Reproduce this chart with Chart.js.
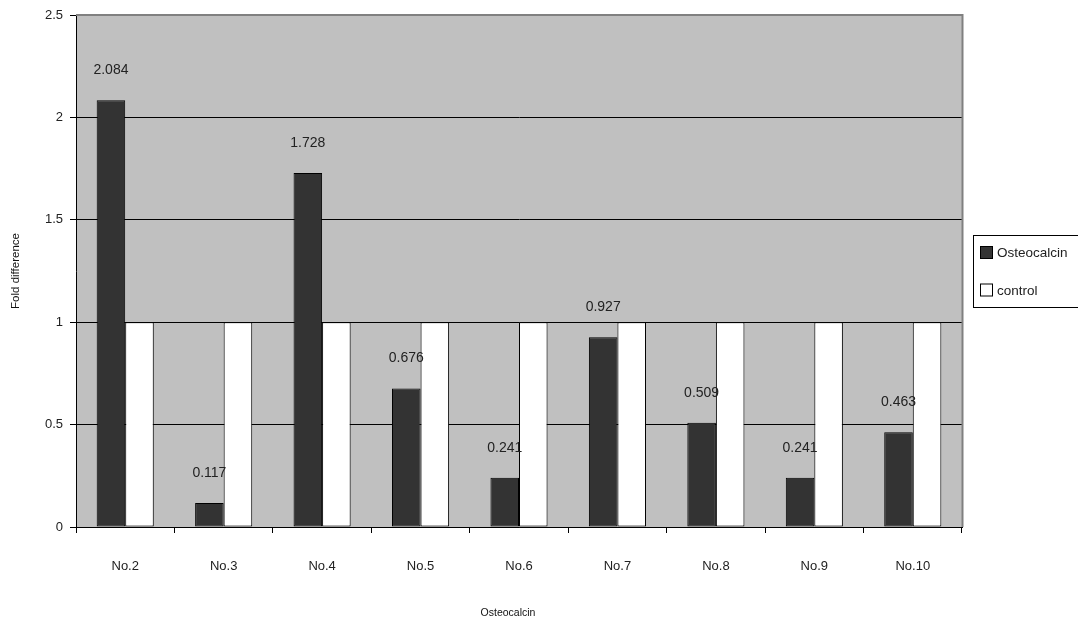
<!DOCTYPE html>
<html>
<head>
<meta charset="utf-8">
<script src="https://cdn.jsdelivr.net/npm/chart.js@4/dist/chart.umd.min.js"></script>
<style>
  html, body { margin: 0; padding: 0; background: #fff; }
  #wrap { width: 1078px; height: 625px; position: relative; }
</style>
</head>
<body>
<div id="wrap"><canvas id="c" width="1078" height="625"></canvas></div>
<script>
// Samples and their measured fold differences
const categories = ['No.2', 'No.3', 'No.4', 'No.5', 'No.6', 'No.7', 'No.8', 'No.9', 'No.10'];
const osteocalcinValues = [2.084, 0.117, 1.728, 0.676, 0.241, 0.927, 0.509, 0.241, 0.463];
const controlValues = [1, 1, 1, 1, 1, 1, 1, 1, 1];
const seriesNames = ['Osteocalcin', 'control'];
const yTicks = [0, 0.5, 1, 1.5, 2, 2.5];
const xTitle = 'Osteocalcin';
const yTitle = 'Fold difference';

const FONT = 'Liberation Sans, Arial, sans-serif';

// Plot background, frame, value labels, axis titles and boxed legend
const decorations = {
  id: 'decorations',
  beforeDraw(chart) {
    const { ctx, chartArea: a } = chart;
    ctx.save();
    ctx.fillStyle = '#c0c0c0';
    ctx.fillRect(a.left, a.top, a.right - a.left, a.bottom - a.top);
    ctx.restore();
  },
  afterDatasetsDraw(chart) {
    const { ctx, chartArea: a } = chart;
    ctx.save();
    // top and right frame edges
    ctx.strokeStyle = '#808080';
    ctx.lineWidth = 2;
    ctx.beginPath();
    ctx.moveTo(a.left, a.top);
    ctx.lineTo(a.right + 0.5, a.top);
    ctx.lineTo(a.right + 0.5, a.bottom);
    ctx.stroke();

    // value labels over the Osteocalcin bars
    const meta = chart.getDatasetMeta(0);
    ctx.fillStyle = '#222';
    ctx.font = '14px ' + FONT;
    ctx.textAlign = 'center';
    ctx.textBaseline = 'middle';
    meta.data.forEach((bar, i) => {
      ctx.fillText(osteocalcinValues[i].toFixed(3), bar.x, bar.y - 30);
    });

    // axis titles
    ctx.fillStyle = '#111';
    ctx.font = '10.5px ' + FONT;
    ctx.fillText(xTitle, 508, 613);
    ctx.save();
    ctx.translate(16, (a.top + a.bottom) / 2);
    ctx.rotate(-Math.PI / 2);
    ctx.font = '11.5px ' + FONT;
    ctx.fillText(yTitle, 0, 0);
    ctx.restore();

    // legend box
    ctx.fillStyle = '#fff';
    ctx.fillRect(973, 235, 120, 72);
    ctx.strokeStyle = '#000';
    ctx.lineWidth = 1;
    ctx.strokeRect(973.5, 235.5, 120, 72);
    const rows = [252.5, 290];
    ctx.font = '13.5px ' + FONT;
    ctx.textAlign = 'left';
    chart.data.datasets.forEach((ds, i) => {
      const y = rows[i];
      ctx.fillStyle = ds.backgroundColor;
      ctx.fillRect(980.5, y - 6, 12, 12);
      ctx.strokeStyle = '#000';
      ctx.strokeRect(980.5, y - 6, 12, 12);
      ctx.fillStyle = '#222';
      ctx.fillText(ds.label, 997, y + 1);
    });
    ctx.restore();
  }
};

new Chart(document.getElementById('c'), {
  type: 'bar',
  data: {
    labels: categories,
    datasets: [
      { label: seriesNames[0], data: osteocalcinValues, backgroundColor: '#333333', borderColor: '#000', borderWidth: 1, borderSkipped: false },
      { label: seriesNames[1], data: controlValues, backgroundColor: '#ffffff', borderColor: '#000', borderWidth: 1, borderSkipped: false }
    ]
  },
  options: {
    responsive: false,
    animation: false,
    devicePixelRatio: 1,
    datasets: { bar: { categoryPercentage: 0.58, barPercentage: 1 } },
    layout: { padding: { left: 0, top: 15, right: 116, bottom: 0 } },
    plugins: { legend: { display: false }, tooltip: { enabled: false } },
    scales: {
      x: {
        afterFit(s) { s.height = 98; },
        grid: { offset: true, drawOnChartArea: false, tickLength: 6, color: '#000', lineWidth: 1 },
        border: { display: true, color: '#000', width: 1 },
        ticks: { color: '#222', font: { size: 13, family: FONT }, padding: 26, maxRotation: 0 }
      },
      y: {
        min: 0, max: 2.5,
        afterFit(s) { s.width = 76; },
        afterBuildTicks(s) { s.ticks = yTicks.map(v => ({ value: v })); },
        grid: {
          tickLength: 6,
          lineWidth: 1,
          color: c => (c.tick && c.tick.value === 2.5 ? '#808080' : '#000'),
          tickColor: '#000'
        },
        border: { display: true, color: '#000', width: 1 },
        ticks: { color: '#222', font: { size: 13, family: FONT }, padding: 7,
                 callback: v => String(v) }
      }
    }
  },
  plugins: [decorations]
});
</script>
</body>
</html>
